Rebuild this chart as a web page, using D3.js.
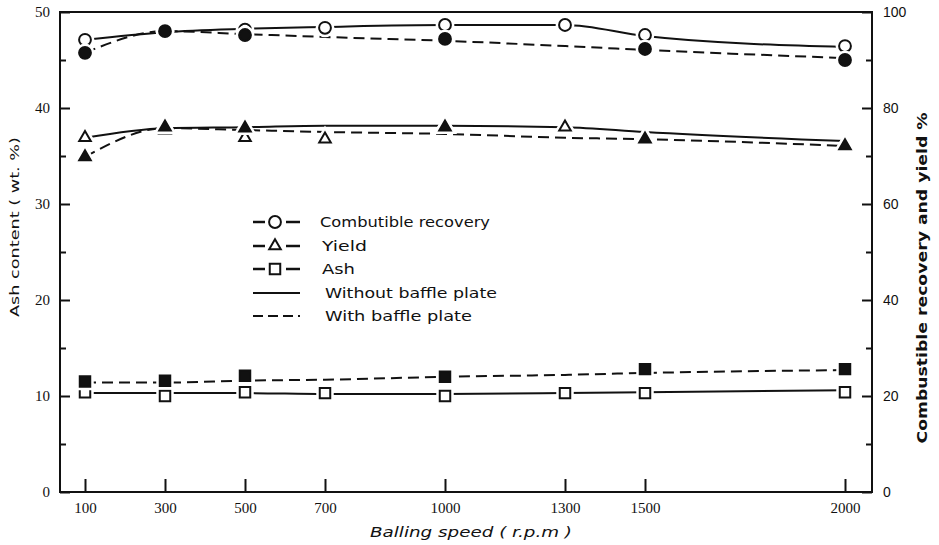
<!DOCTYPE html>
<html>
<head>
<meta charset="utf-8">
<script src="https://cdn.jsdelivr.net/npm/d3@7/dist/d3.min.js"></script>
<style>
  html, body { margin: 0; padding: 0; background: #fff; }
  svg { display: block; }
</style>
</head>
<body>
<svg id="chart" width="939" height="545"></svg>
<script>
// Balling speed (r.p.m) at which each run was made
const speeds = [100, 300, 500, 700, 1000, 1300, 1500, 2000];

// Combustible recovery, % (right axis)
const recoveryWithout = [94.2, 96.0, 96.3, 96.7, 97.3, 97.3, 95.2, 92.9];
const recoveryWith    = [91.5, 96.0, 95.2, null, 94.4, null, 92.3, 90.0];
const recoveryTrendWithout = [94.2, 95.8, 96.5, 96.9, 97.3, 97.3, 95.0, 92.7];
const recoveryTrendWith    = [91.5, 96.0, 95.4, 94.8, 94.0, 92.9, 92.1, 90.4];

// Yield, % (right axis)
const yieldWithout = [73.8, 75.4, 73.8, 73.5, 76.0, 76.0, 73.6, 72.1];
const yieldWith    = [69.8, 76.0, 75.8, null, 76.0, null, 73.5, 72.1];
const yieldTrendWithout = [73.8, 75.8, 76.0, 76.3, 76.3, 76.0, 75.0, 73.1];
const yieldTrendWith    = [69.8, 75.8, 75.4, 75.0, 74.6, 73.8, 73.5, 72.1];

// Ash content, wt.% (left axis)
const ashWithout = [10.4, 10.0, 10.4, 10.3, 10.0, 10.3, 10.3, 10.4];
const ashWith    = [11.5, 11.6, 12.1, null, 12.0, null, 12.8, 12.8];
const ashTrendWithout = [10.3, 10.3, 10.3, 10.2, 10.2, 10.3, 10.4, 10.6];
const ashTrendWith    = [11.4, 11.4, 11.6, 11.7, 12.0, 12.2, 12.4, 12.7];

// Axis ticks
const ashTicks = [0, 10, 20, 30, 40, 50];
const ashMinorTicks = [5, 15, 25, 35, 45];
const pctTicks = [0, 20, 40, 60, 80, 100];
const pctMinorTicks = [10, 30, 50, 70, 90];

// Texts
const xTitle = "Balling speed ( r.p.m )";
const yLeftTitle = "Ash content ( wt. %)";
const yRightTitle = "Combustible recovery and yield %";
const legendSeries = ["Combutible recovery", "Yield", "Ash"];
const legendStyles = ["Without baffle plate", "With baffle plate"];

const ink = "#111";
const svg = d3.select("#chart");

const frame = { left: 60, right: 872, top: 12, bottom: 492 };

const x = d3.scaleLinear().domain([100, 2000]).range([85, 845]);
const yAsh = d3.scaleLinear().domain([0, 50]).range([frame.bottom, frame.top]);
const yPct = d3.scaleLinear().domain([0, 100]).range([frame.bottom, frame.top]);

// ---- axes ----
function styleAxis(g, font, size) {
  g.select(".domain").remove();
  g.selectAll(".tick line").attr("stroke", ink).attr("stroke-width", 2);
  g.selectAll(".tick text").attr("fill", ink)
    .attr("font-family", font).attr("font-size", size);
}

svg.append("g").attr("transform", `translate(${frame.left},0)`)
  .call(d3.axisLeft(yAsh).tickValues(ashTicks).tickSize(-10).tickPadding(10).tickFormat(d3.format("d")))
  .call(g => styleAxis(g, "Liberation Serif", 15));
svg.append("g").attr("transform", `translate(${frame.left},0)`)
  .call(d3.axisLeft(yAsh).tickValues(ashMinorTicks).tickSize(-6).tickFormat(""))
  .call(g => styleAxis(g, "Liberation Serif", 15));

svg.append("g").attr("transform", `translate(${frame.right},0)`)
  .call(d3.axisRight(yPct).tickValues(pctTicks).tickSize(-10).tickPadding(11).tickFormat(d3.format("d")))
  .call(g => styleAxis(g, "Liberation Sans", 14));
svg.append("g").attr("transform", `translate(${frame.right},0)`)
  .call(d3.axisRight(yPct).tickValues(pctMinorTicks).tickSize(-6).tickFormat(""))
  .call(g => styleAxis(g, "Liberation Sans", 14));

svg.append("g").attr("transform", `translate(0,${frame.bottom})`)
  .call(d3.axisBottom(x).tickValues(speeds).tickSize(-13).tickPadding(10).tickFormat(d3.format("d")))
  .call(g => styleAxis(g, "Liberation Serif", 15));

// plot frame
svg.append("rect")
  .attr("x", frame.left).attr("y", frame.top)
  .attr("width", frame.right - frame.left).attr("height", frame.bottom - frame.top)
  .attr("fill", "none").attr("stroke", ink).attr("stroke-width", 2);

// ---- axis titles ----
svg.append("text")
  .attr("x", 471).attr("y", 537)
  .attr("text-anchor", "middle")
  .attr("font-family", "DejaVu Sans").attr("font-size", 14).attr("font-style", "italic")
  .attr("textLength", 202).attr("lengthAdjust", "spacingAndGlyphs")
  .attr("fill", ink).text(xTitle);

svg.append("text")
  .attr("transform", "translate(14,227) rotate(-90)")
  .attr("text-anchor", "middle").attr("dominant-baseline", "central")
  .attr("font-family", "DejaVu Sans").attr("font-size", 13)
  .attr("textLength", 180).attr("lengthAdjust", "spacingAndGlyphs")
  .attr("fill", ink).text(yLeftTitle);

svg.append("text")
  .attr("transform", "translate(922,278) rotate(-90)")
  .attr("text-anchor", "middle").attr("dominant-baseline", "central")
  .attr("font-family", "DejaVu Sans").attr("font-size", 14).attr("font-weight", "bold")
  .attr("textLength", 331).attr("lengthAdjust", "spacingAndGlyphs")
  .attr("fill", ink).text(yRightTitle);

// ---- trend lines ----
const dashed = "11,6";
const trends = [
  { vals: recoveryTrendWithout, y: yPct, dash: null },
  { vals: recoveryTrendWith,    y: yPct, dash: dashed },
  { vals: yieldTrendWithout,    y: yPct, dash: null },
  { vals: yieldTrendWith,       y: yPct, dash: dashed },
  { vals: ashTrendWithout,      y: yAsh, dash: null },
  { vals: ashTrendWith,         y: yAsh, dash: dashed }
];
trends.forEach(t => {
  const line = d3.line()
    .x((d, i) => x(speeds[i]))
    .y(d => t.y(d))
    .curve(d3.curveMonotoneX);
  svg.append("path")
    .attr("d", line(t.vals))
    .attr("fill", "none").attr("stroke", ink).attr("stroke-width", 2)
    .attr("stroke-dasharray", t.dash);
});

// ---- markers ----
const shapes = {
  circle: d3.symbol().type(d3.symbolCircle).size(110),
  triangle: d3.symbol().type(d3.symbolTriangle).size(58),
  square: d3.symbol().type(d3.symbolSquare).size(110)
};

function drawMarkers(vals, yScale, shape, filled) {
  const pts = vals.map((v, i) => ({ s: speeds[i], v })).filter(d => d.v != null);
  const g = svg.append("g");
  // white halo leaves a small gap between line and marker
  g.selectAll("path.halo").data(pts).join("path")
    .attr("class", "halo")
    .attr("transform", d => `translate(${x(d.s)},${yScale(d.v)})`)
    .attr("d", shapes[shape]())
    .attr("fill", "#fff").attr("stroke", "#fff").attr("stroke-width", 7);
  g.selectAll("path.mark").data(pts).join("path")
    .attr("class", "mark")
    .attr("transform", d => `translate(${x(d.s)},${yScale(d.v)})`)
    .attr("d", shapes[shape]())
    .attr("fill", filled ? ink : "#fff").attr("stroke", ink).attr("stroke-width", 2);
}

drawMarkers(recoveryWithout, yPct, "circle", false);
drawMarkers(yieldWithout, yPct, "triangle", false);
drawMarkers(ashWithout, yAsh, "square", false);
drawMarkers(recoveryWith, yPct, "circle", true);
drawMarkers(yieldWith, yPct, "triangle", true);
drawMarkers(ashWith, yAsh, "square", true);

// ---- legend ----
const legend = svg.append("g").attr("transform", "translate(253,222)");
const rowY = [0, 24, 47, 71, 94];
const seriesShapes = ["circle", "triangle", "square"];
const seriesLen = [170, 45, 33];
legendSeries.forEach((name, i) => {
  const gy = rowY[i];
  legend.append("line").attr("x1", 0).attr("x2", 12).attr("y1", gy).attr("y2", gy)
    .attr("stroke", ink).attr("stroke-width", 2.5);
  legend.append("line").attr("x1", 33).attr("x2", 47).attr("y1", gy).attr("y2", gy)
    .attr("stroke", ink).attr("stroke-width", 2.5);
  legend.append("path").attr("transform", `translate(22,${gy})`)
    .attr("d", shapes[seriesShapes[i]]())
    .attr("fill", "#fff").attr("stroke", ink).attr("stroke-width", 2);
  legend.append("text").attr("x", i === 0 ? 67 : 69).attr("y", gy)
    .attr("dominant-baseline", "central")
    .attr("font-family", "DejaVu Sans").attr("font-size", 14)
    .attr("textLength", seriesLen[i]).attr("lengthAdjust", "spacingAndGlyphs")
    .attr("fill", ink).text(name);
});
const styleLen = [172, 147];
legendStyles.forEach((name, i) => {
  const gy = rowY[3 + i];
  legend.append("line").attr("x1", 0).attr("x2", 47).attr("y1", gy).attr("y2", gy)
    .attr("stroke", ink).attr("stroke-width", 2)
    .attr("stroke-dasharray", i === 1 ? "10,5" : null);
  legend.append("text").attr("x", 72).attr("y", gy)
    .attr("dominant-baseline", "central")
    .attr("font-family", "DejaVu Sans").attr("font-size", 14)
    .attr("textLength", styleLen[i]).attr("lengthAdjust", "spacingAndGlyphs")
    .attr("fill", ink).text(name);
});
</script>
</body>
</html>
